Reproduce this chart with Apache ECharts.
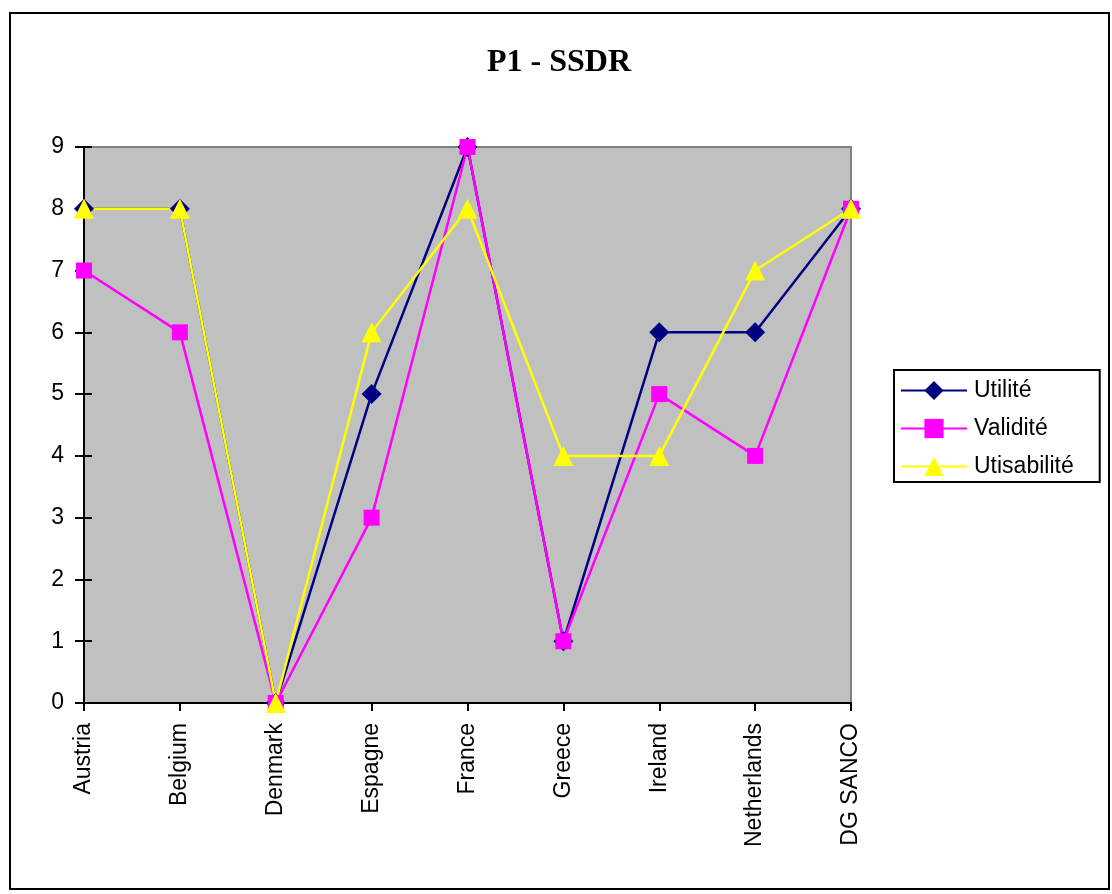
<!DOCTYPE html>
<html>
<head>
<meta charset="utf-8">
<title>P1 - SSDR</title>
<script src="https://cdn.jsdelivr.net/npm/echarts@6/dist/echarts.min.js"></script>
<style>
  html, body { margin: 0; padding: 0; background: #fff; }
  #chart { width: 1112px; height: 894px; }
</style>
</head>
<body>
<div id="chart"></div>
<script>
// catégories et séries
var countries = ['Austria', 'Belgium', 'Denmark', 'Espagne', 'France', 'Greece', 'Ireland', 'Netherlands', 'DG SANCO'];
var utilite = [8, 8, 0, 5, 9, 1, 6, 6, 8];
var validite = [7, 6, 0, 3, 9, 1, 5, 4, 8];
var utisabilite = [8, 8, 0, 6, 8, 4, 4, 7, 8];
var yTicks = [0, 9, 1]; // min, max, interval

var myChart = echarts.init(document.getElementById('chart'));

function serie(name, data, color, symbol, size) {
    return {
        name: name,
        type: 'line',
        data: data,
        symbol: symbol,
        symbolSize: size,
        showAllSymbol: true,
        lineStyle: { color: color, width: 2.5 },
        itemStyle: { color: color },
        emphasis: { disabled: true }
    };
}

var font = 'Liberation Sans, Arial, sans-serif';

myChart.setOption({
    animation: false,
    backgroundColor: '#ffffff',
    title: {
        text: 'P1 - SSDR',
        left: 554,
        top: 42,
        textAlign: 'center',
        textStyle: {
            fontFamily: 'Liberation Serif, Times New Roman, serif',
            fontSize: 32,
            fontWeight: 'bold',
            color: '#000'
        }
    },
    graphic: [{
        type: 'rect',
        shape: { x: 10, y: 13, width: 1099, height: 876 },
        style: { fill: 'none', stroke: '#000', lineWidth: 2 },
        z: -1
    }],
    legend: {
        orient: 'vertical',
        left: 894,
        top: 370,
        itemWidth: 66,
        itemHeight: 24,
        itemGap: 15,
        padding: [9, 26, 4, 6],
        borderColor: '#000',
        borderWidth: 2,
        backgroundColor: '#fff',
        textStyle: { fontFamily: font, fontSize: 23, color: '#000', padding: [0, 0, 0, 2] },
        data: ['Utilité', 'Validité', 'Utisabilité']
    },
    grid: {
        left: 84,
        top: 147,
        right: 261,
        bottom: 191,
        show: true,
        backgroundColor: '#c0c0c0',
        borderColor: '#808080',
        borderWidth: 2
    },
    xAxis: {
        type: 'category',
        data: countries,
        boundaryGap: false,
        axisLine: { lineStyle: { color: '#000', width: 2 } },
        axisTick: { show: true, length: 8, lineStyle: { color: '#000', width: 2 } },
        axisLabel: {
            rotate: 90,
            margin: 20,
            fontFamily: font,
            fontSize: 23,
            color: '#000'
        },
        splitLine: { show: false }
    },
    yAxis: [{
        type: 'value',
        min: yTicks[0],
        max: yTicks[1],
        interval: yTicks[2],
        axisLine: { show: true, lineStyle: { color: '#000', width: 2 } },
        axisTick: { show: true, length: 9, lineStyle: { color: '#000', width: 2 } },
        axisLabel: { margin: 20, fontFamily: font, fontSize: 23, color: '#000' },
        splitLine: { show: false }
    }, {
        // graduations vers l'intérieur (les marques traversent l'axe)
        type: 'value',
        position: 'left',
        min: yTicks[0],
        max: yTicks[1],
        interval: yTicks[2],
        axisLine: { show: false },
        axisTick: { show: true, inside: true, length: 8, lineStyle: { color: '#000', width: 2 } },
        axisLabel: { show: false },
        splitLine: { show: false }
    }],
    series: [
        serie('Utilité', utilite, '#000080', 'diamond', 20),
        serie('Validité', validite, '#ff00ff', 'rect', 16),
        serie('Utisabilité', utisabilite, '#ffff00', 'triangle', 20)
    ]
});
</script>
</body>
</html>
